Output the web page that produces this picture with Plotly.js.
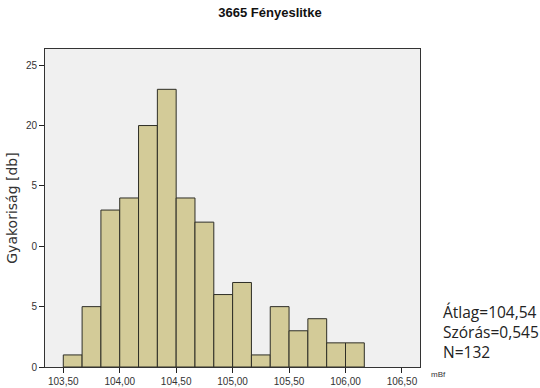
<!DOCTYPE html>
<html>
<head>
<meta charset="utf-8">
<script src="https://cdn.plot.ly/plotly-3.0.1.min.js"></script>
<style>html,body{margin:0;padding:0;background:#fff;}#chart{width:540px;height:388px;}</style>
</head>
<body>
<div id="chart"></div>
<script>
const binStart = 103.5;
const binWidth = 1 / 6;
const counts = [1, 5, 13, 14, 20, 23, 14, 12, 6, 7, 1, 5, 3, 4, 2, 2];
const xTickVals = [103.5, 104.0, 104.5, 105.0, 105.5, 106.0, 106.5];
const xTickText = ["103,50", "104,00", "104,50", "105,00", "105,50", "106,00", "106,50"];
const yTickVals = [0, 5, 10, 15, 20, 25];
const yTickText = ["0", "5", "0", "5", "20", "25"];
const statsLines = ["Átlag=104,54", "Szórás=0,545", "N=132"];

const binLefts = counts.map((c, i) => binStart + i * binWidth);

const trace = {
  type: "bar",
  x: binLefts,
  y: counts,
  width: counts.map(() => binWidth),
  offset: 0,
  marker: { color: "#d3cb98", line: { color: "#2e2e26", width: 1 } },
  hoverinfo: "skip"
};

const layout = {
  width: 540, height: 388,
  margin: { l: 45, r: 120, t: 49, b: 21 },
  paper_bgcolor: "#ffffff",
  plot_bgcolor: "#f0f0f0",
  showlegend: false,
  bargap: 0,
  title: { text: "<b>3665 Fényeslitke</b>", x: 0.5, xanchor: "center", y: 0.968, yanchor: "middle",
           font: { family: "Liberation Sans, Arial, sans-serif", size: 13, color: "#111" } },
  xaxis: {
    range: [103.338, 106.66], autorange: false,
    tickvals: xTickVals, ticktext: xTickText, tickmode: "array",
    ticks: "outside", ticklen: 5, tickcolor: "#222", tickwidth: 1,
    showgrid: false, zeroline: false,
    showline: true, linecolor: "#333", linewidth: 1, mirror: true,
    tickfont: { family: "Liberation Sans, Arial, sans-serif", size: 10, color: "#333" },
    automargin: false
  },
  yaxis: {
    range: [0, 26.34], autorange: false,
    tickvals: yTickVals, ticktext: yTickText, tickmode: "array",
    ticks: "outside", ticklen: 5, tickcolor: "#222", tickwidth: 1,
    showgrid: false, zeroline: false,
    showline: true, linecolor: "#333", linewidth: 1, mirror: true,
    tickfont: { family: "Liberation Sans, Arial, sans-serif", size: 10, color: "#333" },
    title: { text: "Gyakoriság [db]", standoff: 4,
             font: { family: "DejaVu Sans, sans-serif", size: 14, color: "#333" } },
    automargin: false
  },
  annotations: [
    { xref: "paper", yref: "paper", x: 1.025, y: -0.025, xanchor: "left", yanchor: "middle",
      text: "mBf", showarrow: false,
      font: { family: "Liberation Sans, Arial, sans-serif", size: 8, color: "#333" } },
    { xref: "paper", yref: "paper", x: 1.056, y: 0.11, xanchor: "left", yanchor: "middle",
      text: statsLines.join("<br>"), align: "left", showarrow: false,
      font: { family: "Open Sans, sans-serif", size: 15.5, color: "#222" } }
  ]
};

Plotly.newPlot("chart", [trace], layout, { displayModeBar: false, staticPlot: true });
</script>
</body>
</html>
